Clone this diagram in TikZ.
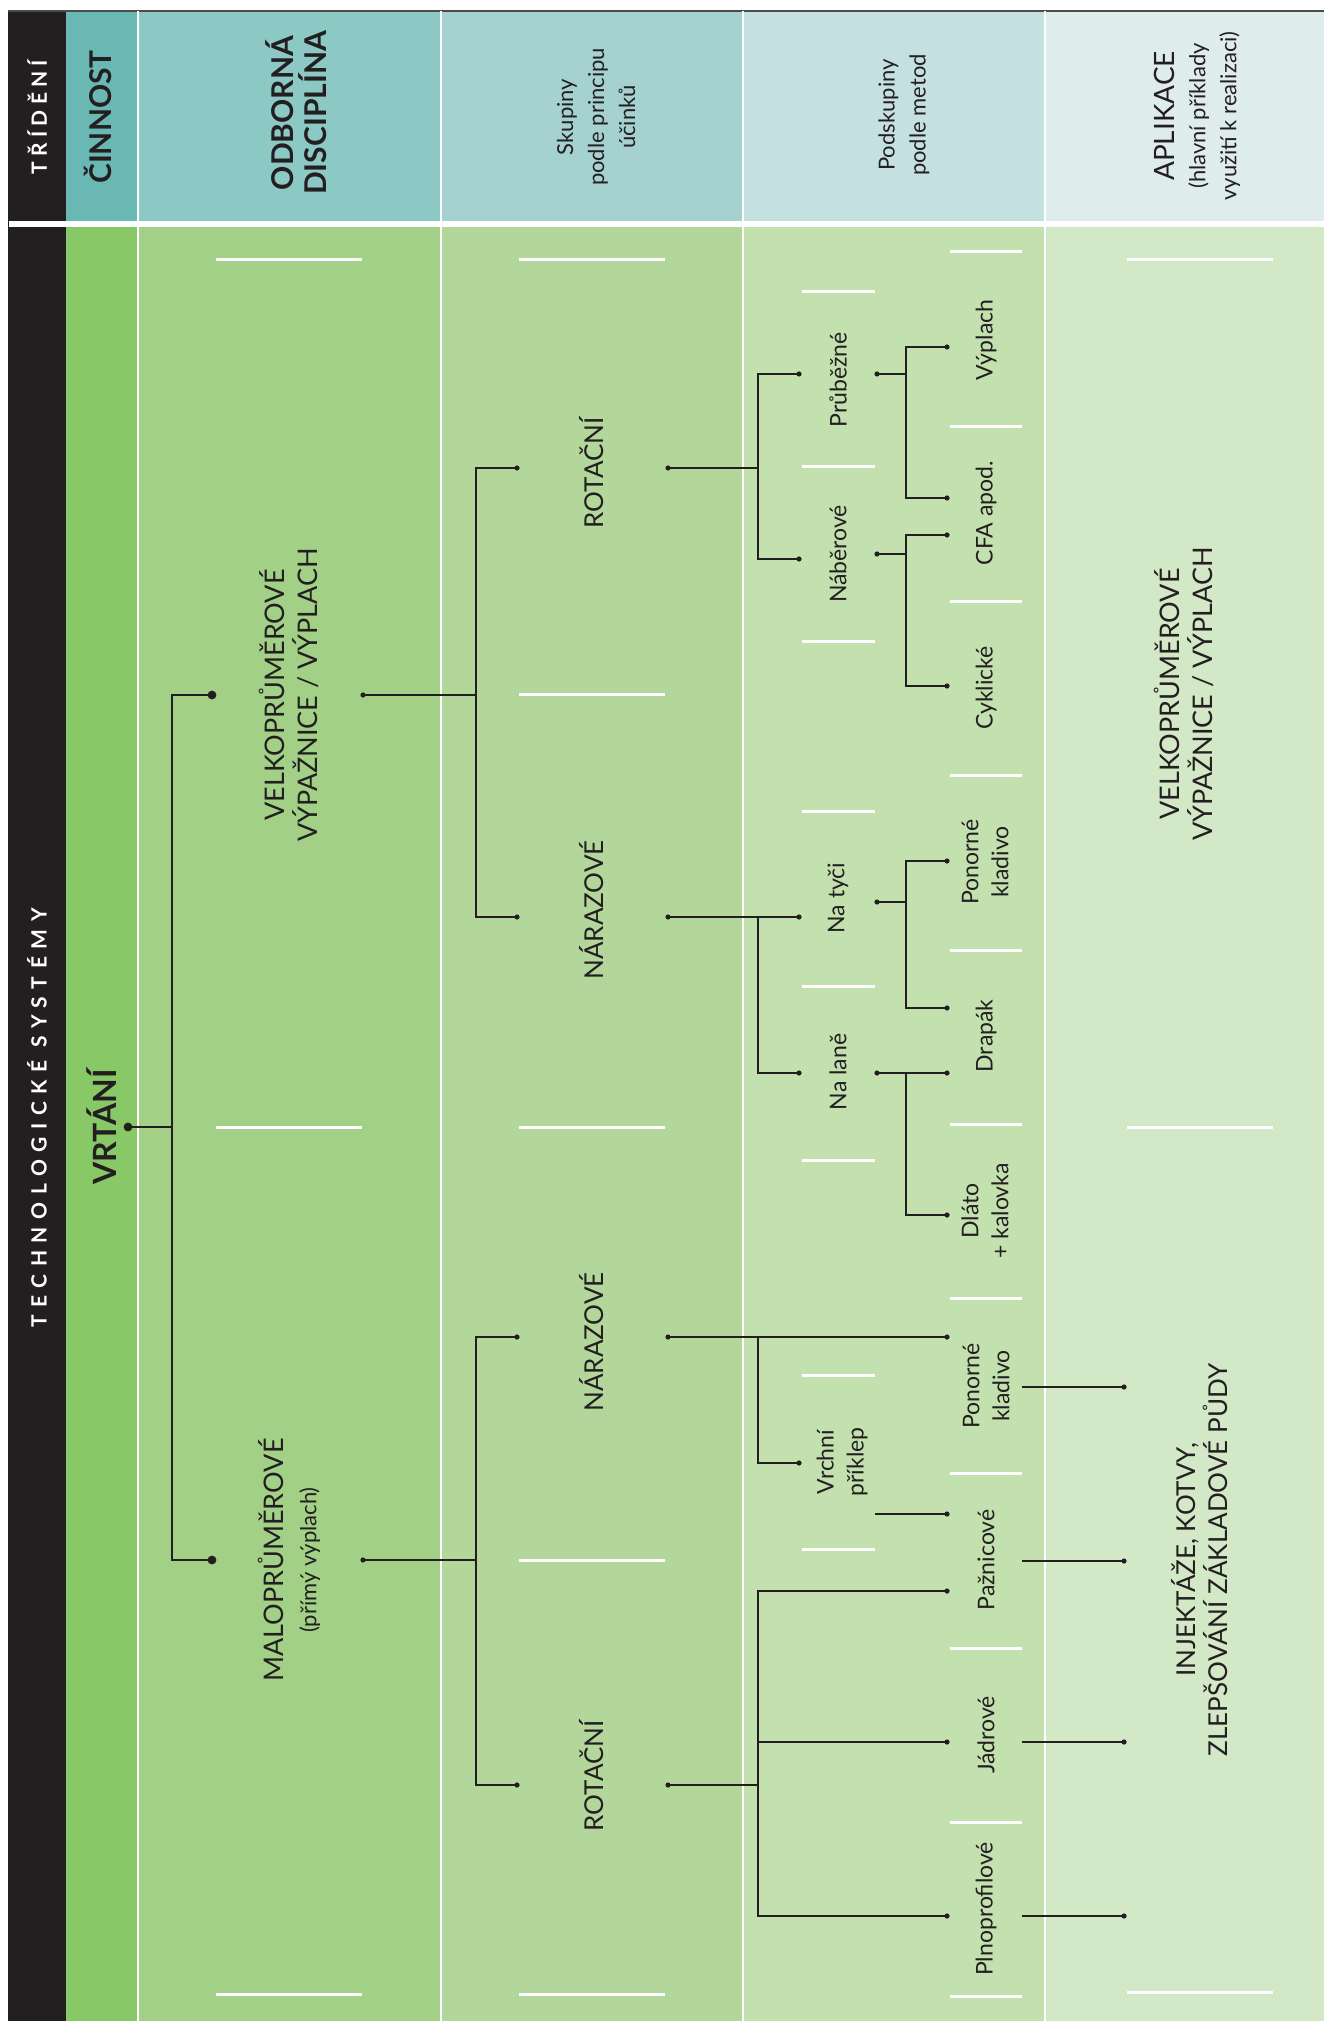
\documentclass[tikz,border=0pt]{standalone}
\usepackage{fontspec}
\setmainfont{Lato}
\newfontfamily\spacedA[LetterSpace=25]{Lato}
\newfontfamily\spacedB[LetterSpace=36]{Lato}
\usepackage{tikz}
\definecolor{ink}{HTML}{231F20}
\definecolor{hdA}{HTML}{6AB8B4}
\definecolor{hdB}{HTML}{8CC8C4}
\definecolor{hdC}{HTML}{A6D1D1}
\definecolor{hdD}{HTML}{C5E0E0}
\definecolor{hdE}{HTML}{DEEDEC}
\definecolor{bdA}{HTML}{89C866}
\definecolor{bdB}{HTML}{A1D086}
\definecolor{bdC}{HTML}{B3D79A}
\definecolor{bdD}{HTML}{C3E0AF}
\definecolor{bdE}{HTML}{D3E8C6}
\def\dotat(#1){\fill[ink] (#1) circle (1.3pt);}
\def\bigdotat(#1){\fill[ink] (#1) circle (2.2pt);}
\tikzset{
	lbl/.style={rotate=90, align=center, text=ink, inner sep=0pt},
	hdwhite/.style={lbl, text=white, font=\spacedA\bfseries\fontsize{10.5}{12}\selectfont},
	hdbold/.style={lbl, font=\bfseries\fontsize{15}{16.5}\selectfont},
	hdtext/.style={lbl, font=\fontsize{11}{15.5}\selectfont},
	capsbig/.style={lbl, font=\fontsize{13.5}{16.5}\selectfont},
	capsmid/.style={lbl, font=\fontsize{13}{16}\selectfont},
	method/.style={lbl, font=\fontsize{11.5}{15}\selectfont},
	trunk/.style={ink, line width=1.1pt},
	conn/.style={ink, line width=0.65pt},
	sep/.style={white, line width=0.8pt},
	gap/.style={white, line width=1.5pt}
}

\begin{document}
\begin{tikzpicture}[x=0.5pt,y=-0.5pt]
		%%%%% START %%%%%
		\useasboundingbox (0,0) rectangle (1324,2021);
		
		% columns: header and body
		\fill[ink] (8,11) rectangle (66,2021);
		\fill[hdA] (66,11) rectangle (138,221);
		\fill[hdB] (138,11) rectangle (441,221);
		\fill[hdC] (441,11) rectangle (743,221);
		\fill[hdD] (743,11) rectangle (1045,221);
		\fill[hdE] (1045,11) rectangle (1324,221);
		\fill[bdA] (66,227) rectangle (138,2021);
		\fill[bdB] (138,227) rectangle (441,2021);
		\fill[bdC] (441,227) rectangle (743,2021);
		\fill[bdD] (743,227) rectangle (1045,2021);
		\fill[bdE] (1045,227) rectangle (1324,2021);
		\fill[white] (9,221) rectangle (1324,227);
		\draw[gray!60!black, line width=0.6pt] (8,11) -- (1324,11);
		\draw[sep] (138,11) -- (138,2021);
		\draw[sep] (441,11) -- (441,2021);
		\draw[sep] (743,11) -- (743,2021);
		\draw[sep] (1045,11) -- (1045,2021);
		
		% white dashes
		\foreach \y in {260,1127,1994} \draw[gap] (216,\y) -- (362,\y);
		\foreach \y in {260,694,1127,1560,1994} \draw[gap] (519,\y) -- (665,\y);
		\foreach \y in {292,467,641,811,986,1160,1375,1549} \draw[gap] (802,\y) -- (875,\y);
		\foreach \y in {252,427,601,775,950,1124,1298,1473,1648,1822,1996} \draw[gap] (950,\y) -- (1022,\y);
		\foreach \y in {260,1127,1992} \draw[gap] (1127,\y) -- (1273,\y);
		
		% headings
		\node[hdwhite] (tridh) at (37,117) {TŘÍDĚNÍ};
		\node[hdbold] (cinh) at (98,117) {ČINNOST};
		\node[hdbold] (odbh) at (296,113) {ODBORNÁ\\DISCIPLÍNA};
		\node[hdtext] (skuph) at (596,117) {Skupiny\\podle principu\\účinků};
		\node[hdtext] (podh) at (904,115) {Podskupiny\\podle metod};
		\node[hdtext] (aplh) at (1197,116) {{\fontsize{14}{16}\selectfont APLIKACE}\\(hlavní příklady\\využití k realizaci)};
		
		% labels
		\node[hdwhite, font=\spacedB\bfseries\fontsize{10.5}{12}\selectfont] (tech) at (37,1118) {TECHNOLOGICKÉ SYSTÉMY};
		\node[hdbold, font=\bfseries\fontsize{16}{18}\selectfont] (vrtani) at (102,1127) {VRTÁNÍ};
		\node[capsbig] (velko) at (289,695) {VELKOPRŮMĚROVÉ\\VÝPAŽNICE / VÝPLACH};
		\node[capsbig] (malo) at (289,1560) {MALOPRŮMĚROVÉ\\{\fontsize{11}{13}\selectfont (přímý výplach)}};
		\node[capsmid] (rotA) at (592,473) {ROTAČNÍ};
		\node[capsmid] (narA) at (592,910) {NÁRAZOVÉ};
		\node[capsmid] (narB) at (592,1342) {NÁRAZOVÉ};
		\node[capsmid] (rotB) at (592,1776) {ROTAČNÍ};
		\node[method] (prub) at (838,380) {Průběžné};
		\node[method] (nab) at (838,554) {Náběrové};
		\node[method] (tyc) at (838,898) {Na tyči};
		\node[method] (lan) at (838,1072) {Na laně};
		\node[method] (vrch) at (842,1462) {Vrchní\\příklep};
		\node[method] (vypl) at (986,340) {Výplach};
		\node[method] (cfa) at (986,513) {CFA apod.};
		\node[method] (cykl) at (986,688) {Cyklické};
		\node[method] (ponA) at (985,862) {Ponorné\\kladivo};
		\node[method] (drap) at (986,1036) {Drapák};
		\node[method] (dlat) at (985,1211) {Dláto\\+ kalovka};
		\node[method] (ponB) at (986,1386) {Ponorné\\kladivo};
		\node[method] (paz) at (986,1560) {Pažnicové};
		\node[method] (jadr) at (986,1735) {Jádrové};
		\node[method] (plno) at (986,1909) {Plnoprofilové};
		\node[capsbig] (velkoapp) at (1184,694) {VELKOPRŮMĚROVÉ\\VÝPAŽNICE / VÝPLACH};
		\node[capsmid] (inj) at (1200,1560) {INJEKTÁŽE, KOTVY,\\ZLEPŠOVÁNÍ ZÁKLADOVÉ PŮDY};
		
		% dot points
		\coordinate (vrtani-o) at (128,1127);
		\coordinate (velko-i) at (212,695);
		\coordinate (velko-o) at (363,695);
		\coordinate (malo-i) at (212,1560);
		\coordinate (malo-o) at (363,1560);
		\coordinate (rotA-i) at (517,468);
		\coordinate (rotA-o) at (668,468);
		\coordinate (narA-i) at (517,917);
		\coordinate (narA-o) at (668,917);
		\coordinate (narB-i) at (517,1337);
		\coordinate (narB-o) at (668,1337);
		\coordinate (rotB-i) at (517,1785);
		\coordinate (rotB-o) at (668,1785);
		\coordinate (prub-i) at (799,374);
		\coordinate (prub-o) at (877,374);
		\coordinate (nab-i) at (799,559);
		\coordinate (nab-o) at (877,554);
		\coordinate (tyc-i) at (799,917);
		\coordinate (tyc-o) at (877,902);
		\coordinate (lan-i) at (799,1073);
		\coordinate (lan-o) at (877,1073);
		\coordinate (vrch-i) at (799,1463);
		\coordinate (vrch-o) at (875,1514);
		\coordinate (vypl-i) at (947,347);
		\coordinate (cfa-i) at (947,498);
		\coordinate (cfa-j) at (947,535);
		\coordinate (cykl-i) at (947,686);
		\coordinate (ponA-i) at (947,861);
		\coordinate (drap-i) at (947,1008);
		\coordinate (drap-j) at (947,1073);
		\coordinate (dlat-i) at (947,1215);
		\coordinate (ponB-i) at (947,1337);
		\coordinate (paz-i) at (947,1514);
		\coordinate (paz-j) at (947,1591);
		\coordinate (jadr-i) at (947,1742);
		\coordinate (plno-i) at (947,1916);
		\coordinate (ponB-o) at (1022,1387);
		\coordinate (paz-o) at (1022,1561);
		\coordinate (jadr-o) at (1022,1742);
		\coordinate (plno-o) at (1022,1916);
		\coordinate (inj-1) at (1124,1387);
		\coordinate (inj-2) at (1124,1561);
		\coordinate (inj-3) at (1124,1742);
		\coordinate (inj-4) at (1124,1916);
		
		% tree
		\draw[trunk] (vrtani-o) -- ++(44,0) |- (velko-i);
		\draw[trunk] (vrtani-o) -- ++(44,0) |- (malo-i);
		\draw[conn] (velko-o) -- ++(113,0) |- (rotA-i);
		\draw[conn] (velko-o) -- ++(113,0) |- (narA-i);
		\draw[conn] (malo-o) -- ++(113,0) |- (narB-i);
		\draw[conn] (malo-o) -- ++(113,0) |- (rotB-i);
		\draw[conn] (rotA-o) -- ++(90,0) |- (prub-i);
		\draw[conn] (rotA-o) -- ++(90,0) |- (nab-i);
		\draw[conn] (narA-o) -- (tyc-i);
		\draw[conn] (narA-o) -- ++(90,0) |- (lan-i);
		\draw[conn] (narB-o) -- (ponB-i);
		\draw[conn] (narB-o) -- ++(90,0) |- (vrch-i);
		\draw[conn] (rotB-o) -- ++(90,0) |- (paz-j);
		\draw[conn] (rotB-o) -- ++(90,0) |- (jadr-i);
		\draw[conn] (rotB-o) -- ++(90,0) |- (plno-i);
		\draw[conn] (prub-o) -- ++(29,0) |- (vypl-i);
		\draw[conn] (prub-o) -- ++(29,0) |- (cfa-i);
		\draw[conn] (nab-o) -- ++(29,0) |- (cfa-j);
		\draw[conn] (nab-o) -- ++(29,0) |- (cykl-i);
		\draw[conn] (tyc-o) -- ++(29,0) |- (ponA-i);
		\draw[conn] (tyc-o) -- ++(29,0) |- (drap-i);
		\draw[conn] (lan-o) -- (drap-j);
		\draw[conn] (lan-o) -- ++(29,0) |- (dlat-i);
		\draw[conn] (vrch-o) -- (paz-i);
		\draw[conn] (ponB-o) -- (inj-1);
		\draw[conn] (paz-o) -- (inj-2);
		\draw[conn] (jadr-o) -- (inj-3);
		\draw[conn] (plno-o) -- (inj-4);
		
		\bigdotat(vrtani-o) \bigdotat(velko-i) \bigdotat(malo-i)
		\dotat(velko-o) \dotat(malo-o)
		\dotat(rotA-i) \dotat(rotA-o) \dotat(narA-i) \dotat(narA-o)
		\dotat(narB-i) \dotat(narB-o) \dotat(rotB-i) \dotat(rotB-o)
		\dotat(prub-i) \dotat(prub-o) \dotat(nab-i) \dotat(nab-o)
		\dotat(tyc-i) \dotat(tyc-o) \dotat(lan-i) \dotat(lan-o) \dotat(vrch-i)
		\dotat(vypl-i) \dotat(cfa-i) \dotat(cfa-j) \dotat(cykl-i)
		\dotat(ponA-i) \dotat(drap-i) \dotat(drap-j) \dotat(dlat-i)
		\dotat(ponB-i) \dotat(paz-i) \dotat(paz-j) \dotat(jadr-i) \dotat(plno-i)
		\dotat(inj-1) \dotat(inj-2) \dotat(inj-3) \dotat(inj-4)
		%%%%% END %%%%%
	\end{tikzpicture}
\end{document}
